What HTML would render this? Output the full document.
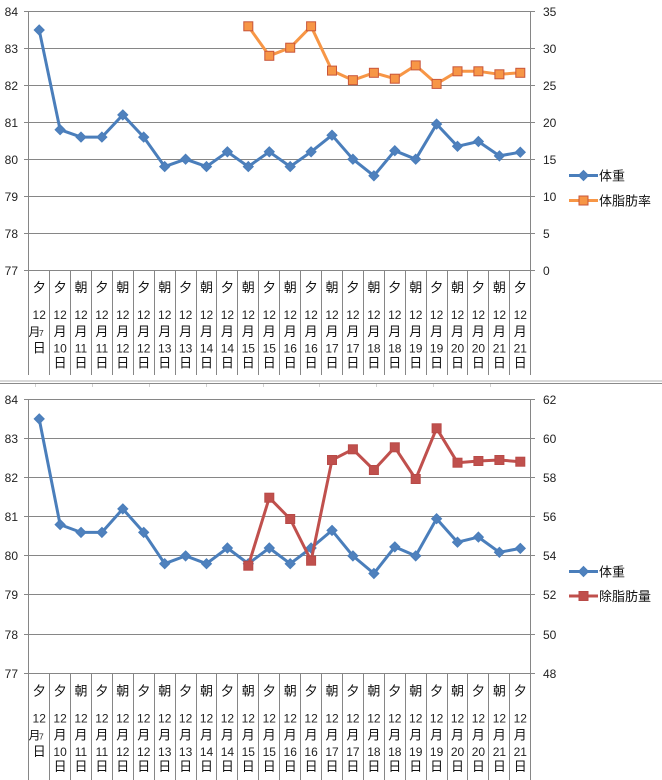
<!DOCTYPE html>
<html><head><meta charset="utf-8"><style>
html,body{margin:0;padding:0;background:#fff;}
svg{display:block;}
.a{font:12px "Liberation Sans","DejaVu Sans",sans-serif;fill:#222;}
.k{font:13px "Liberation Sans","Noto Sans CJK JP",sans-serif;fill:#111;text-anchor:middle;}
.k2{font:12px "Liberation Sans","Noto Sans CJK JP",sans-serif;fill:#111;}
.n{font:12px "Liberation Sans",sans-serif;fill:#222;text-anchor:middle;}
.s{font:8.5px "Liberation Sans",sans-serif;fill:#222;}
.lg{font:13px "Liberation Sans","Noto Sans CJK JP",sans-serif;fill:#111;}
</style></head><body>
<svg width="662" height="780" viewBox="0 0 662 780" xmlns="http://www.w3.org/2000/svg">
<defs>
<path id="d" d="M0,-5 L5,0 L0,5 L-5,0Z" fill="#4F81BD" stroke="#4A7EBB" stroke-width="1"/>
<rect id="o" x="-4.5" y="-4.5" width="9" height="9" fill="#F79646" stroke="#C8553A" stroke-width="1"/>
<rect id="r" x="-4.5" y="-4.5" width="9" height="9" fill="#C0504D" stroke="#B84A47" stroke-width="1"/>
</defs>
<rect width="662" height="780" fill="#fff"/>

<!-- ===== TOP CHART ===== -->
<g stroke="#868686" stroke-width="1" fill="none">
<path d="M24,11.5H535 M24,48.5H535 M24,85.5H535 M24,122.5H535 M24,159.5H535 M24,196.5H535 M24,233.5H535 M24,270.5H535"/>
<path d="M28.5,11V375 M530.5,11V375"/>
<path d="M49.5,270V375 M70.5,270V375 M91.5,270V375 M112.5,270V375 M133.5,270V375 M154.5,270V375 M175.5,270V375 M196.5,270V375 M216.5,270V375 M237.5,270V375 M258.5,270V375 M279.5,270V375 M300.5,270V375 M321.5,270V375 M342.5,270V375 M363.5,270V375 M384.5,270V375 M405.5,270V375 M426.5,270V375 M447.5,270V375 M467.5,270V375 M488.5,270V375 M509.5,270V375"/>
</g>
<g class="a" text-anchor="end">
<text x="18" y="16">84</text><text x="18" y="53">83</text><text x="18" y="90">82</text><text x="18" y="127">81</text>
<text x="18" y="164">80</text><text x="18" y="201">79</text><text x="18" y="238">78</text><text x="18" y="275">77</text>
</g>
<g class="a">
<text x="543" y="16">35</text><text x="543" y="53">30</text><text x="543" y="90">25</text><text x="543" y="127">20</text>
<text x="543" y="164">15</text><text x="543" y="201">10</text><text x="543" y="238">5</text><text x="543" y="275">0</text>
</g>

<polyline fill="none" stroke="#4A7EBB" stroke-width="3" stroke-linejoin="round" points="39.2,30.0 60.1,129.7 81.0,137.1 101.9,137.1 122.8,114.9 143.7,137.1 164.7,166.6 185.6,159.2 206.5,166.6 227.4,151.8 248.3,166.6 269.3,151.8 290.2,166.6 311.1,151.8 332.0,135.2 352.9,159.2 373.9,175.8 394.8,150.7 415.7,159.2 436.6,124.1 457.5,146.3 478.4,141.5 499.4,155.9 520.3,152.2"/>
<g>
<use href="#d" x="39.2" y="30.0"/><use href="#d" x="60.1" y="129.7"/><use href="#d" x="81.0" y="137.1"/><use href="#d" x="101.9" y="137.1"/><use href="#d" x="122.8" y="114.9"/><use href="#d" x="143.7" y="137.1"/><use href="#d" x="164.7" y="166.6"/><use href="#d" x="185.6" y="159.2"/><use href="#d" x="206.5" y="166.6"/><use href="#d" x="227.4" y="151.8"/><use href="#d" x="248.3" y="166.6"/><use href="#d" x="269.3" y="151.8"/><use href="#d" x="290.2" y="166.6"/><use href="#d" x="311.1" y="151.8"/><use href="#d" x="332.0" y="135.2"/><use href="#d" x="352.9" y="159.2"/><use href="#d" x="373.9" y="175.8"/><use href="#d" x="394.8" y="150.7"/><use href="#d" x="415.7" y="159.2"/><use href="#d" x="436.6" y="124.1"/><use href="#d" x="457.5" y="146.3"/><use href="#d" x="478.4" y="141.5"/><use href="#d" x="499.4" y="155.9"/><use href="#d" x="520.3" y="152.2"/>
</g>
<polyline fill="none" stroke="#F79646" stroke-width="3" stroke-linejoin="round" points="248.3,26.3 269.3,55.8 290.2,47.7 311.1,26.3 332.0,70.6 352.9,80.2 373.9,72.8 394.8,78.7 415.7,65.4 436.6,83.9 457.5,71.3 478.4,71.3 499.4,74.3 520.3,72.8"/>
<g>
<use href="#o" x="248.3" y="26.3"/><use href="#o" x="269.3" y="55.8"/><use href="#o" x="290.2" y="47.7"/><use href="#o" x="311.1" y="26.3"/><use href="#o" x="332.0" y="70.6"/><use href="#o" x="352.9" y="80.2"/><use href="#o" x="373.9" y="72.8"/><use href="#o" x="394.8" y="78.7"/><use href="#o" x="415.7" y="65.4"/><use href="#o" x="436.6" y="83.9"/><use href="#o" x="457.5" y="71.3"/><use href="#o" x="478.4" y="71.3"/><use href="#o" x="499.4" y="74.3"/><use href="#o" x="520.3" y="72.8"/>
</g>

<!-- top legend -->
<line x1="569" y1="175.5" x2="598" y2="175.5" stroke="#4A7EBB" stroke-width="3"/>
<use href="#d" x="583.5" y="175.5"/>
<text class="lg" x="599" y="180.5">体重</text>
<line x1="569" y1="200.5" x2="598" y2="200.5" stroke="#F79646" stroke-width="3"/>
<use href="#o" x="583.5" y="200.5"/>
<text class="lg" x="599" y="205.5">体脂肪率</text>

<!-- top category labels -->
<g class="k">
<text x="39.2" y="292">夕</text><text x="60.1" y="292">夕</text><text x="81.0" y="292">朝</text><text x="101.9" y="292">夕</text><text x="122.8" y="292">朝</text><text x="143.7" y="292">夕</text><text x="164.7" y="292">朝</text><text x="185.6" y="292">夕</text><text x="206.5" y="292">朝</text><text x="227.4" y="292">夕</text><text x="248.3" y="292">朝</text><text x="269.3" y="292">夕</text><text x="290.2" y="292">朝</text><text x="311.1" y="292">夕</text><text x="332.0" y="292">朝</text><text x="352.9" y="292">夕</text><text x="373.9" y="292">朝</text><text x="394.8" y="292">夕</text><text x="415.7" y="292">朝</text><text x="436.6" y="292">夕</text><text x="457.5" y="292">朝</text><text x="478.4" y="292">夕</text><text x="499.4" y="292">朝</text><text x="520.3" y="292">夕</text>
</g>
<g class="n">
<text x="39.2" y="319">12</text><text x="60.1" y="319">12</text><text x="81.0" y="319">12</text><text x="101.9" y="319">12</text><text x="122.8" y="319">12</text><text x="143.7" y="319">12</text><text x="164.7" y="319">12</text><text x="185.6" y="319">12</text><text x="206.5" y="319">12</text><text x="227.4" y="319">12</text><text x="248.3" y="319">12</text><text x="269.3" y="319">12</text><text x="290.2" y="319">12</text><text x="311.1" y="319">12</text><text x="332.0" y="319">12</text><text x="352.9" y="319">12</text><text x="373.9" y="319">12</text><text x="394.8" y="319">12</text><text x="415.7" y="319">12</text><text x="436.6" y="319">12</text><text x="457.5" y="319">12</text><text x="478.4" y="319">12</text><text x="499.4" y="319">12</text><text x="520.3" y="319">12</text>
</g>
<text class="k2" x="28.5" y="336">月</text><text class="s" x="39" y="336">7</text>
<text class="k" x="39.2" y="352.5">日</text>
<g class="k">
<text x="60.1" y="336">月</text><text x="81.0" y="336">月</text><text x="101.9" y="336">月</text><text x="122.8" y="336">月</text><text x="143.7" y="336">月</text><text x="164.7" y="336">月</text><text x="185.6" y="336">月</text><text x="206.5" y="336">月</text><text x="227.4" y="336">月</text><text x="248.3" y="336">月</text><text x="269.3" y="336">月</text><text x="290.2" y="336">月</text><text x="311.1" y="336">月</text><text x="332.0" y="336">月</text><text x="352.9" y="336">月</text><text x="373.9" y="336">月</text><text x="394.8" y="336">月</text><text x="415.7" y="336">月</text><text x="436.6" y="336">月</text><text x="457.5" y="336">月</text><text x="478.4" y="336">月</text><text x="499.4" y="336">月</text><text x="520.3" y="336">月</text>
<text x="60.1" y="367.5">日</text><text x="81.0" y="367.5">日</text><text x="101.9" y="367.5">日</text><text x="122.8" y="367.5">日</text><text x="143.7" y="367.5">日</text><text x="164.7" y="367.5">日</text><text x="185.6" y="367.5">日</text><text x="206.5" y="367.5">日</text><text x="227.4" y="367.5">日</text><text x="248.3" y="367.5">日</text><text x="269.3" y="367.5">日</text><text x="290.2" y="367.5">日</text><text x="311.1" y="367.5">日</text><text x="332.0" y="367.5">日</text><text x="352.9" y="367.5">日</text><text x="373.9" y="367.5">日</text><text x="394.8" y="367.5">日</text><text x="415.7" y="367.5">日</text><text x="436.6" y="367.5">日</text><text x="457.5" y="367.5">日</text><text x="478.4" y="367.5">日</text><text x="499.4" y="367.5">日</text><text x="520.3" y="367.5">日</text>
</g>
<g class="n">
<text x="60.1" y="352.5">10</text><text x="81.0" y="352.5">11</text><text x="101.9" y="352.5">11</text><text x="122.8" y="352.5">12</text><text x="143.7" y="352.5">12</text><text x="164.7" y="352.5">13</text><text x="185.6" y="352.5">13</text><text x="206.5" y="352.5">14</text><text x="227.4" y="352.5">14</text><text x="248.3" y="352.5">15</text><text x="269.3" y="352.5">15</text><text x="290.2" y="352.5">16</text><text x="311.1" y="352.5">16</text><text x="332.0" y="352.5">17</text><text x="352.9" y="352.5">17</text><text x="373.9" y="352.5">18</text><text x="394.8" y="352.5">18</text><text x="415.7" y="352.5">19</text><text x="436.6" y="352.5">19</text><text x="457.5" y="352.5">20</text><text x="478.4" y="352.5">20</text><text x="499.4" y="352.5">21</text><text x="520.3" y="352.5">21</text>
</g>

<!-- separator -->
<line x1="0" y1="381" x2="662" y2="381" stroke="#b0b0b0" stroke-width="1"/>
<line x1="0" y1="383.5" x2="662" y2="383.5" stroke="#8a8a8a" stroke-width="1"/>
<path d="M35.5,384V387 M92.5,384V387 M149.5,384V387 M206.5,384V387 M263.5,384V387 M319.5,384V387 M376.5,384V387 M433.5,384V387 M490.5,384V387" stroke="#d0d0d0" stroke-width="1"/>

<!-- ===== BOTTOM CHART ===== -->
<g stroke="#868686" stroke-width="1" fill="none">
<path d="M24,399.5H535 M24,438.5H535 M24,477.5H535 M24,516.5H535 M24,555.5H535 M24,594.5H535 M24,634.5H535 M24,673.5H535"/>
<path d="M28.5,399V780 M530.5,399V780"/>
<path d="M49.5,673V780 M70.5,673V780 M91.5,673V780 M112.5,673V780 M133.5,673V780 M154.5,673V780 M175.5,673V780 M196.5,673V780 M216.5,673V780 M237.5,673V780 M258.5,673V780 M279.5,673V780 M300.5,673V780 M321.5,673V780 M342.5,673V780 M363.5,673V780 M384.5,673V780 M405.5,673V780 M426.5,673V780 M447.5,673V780 M467.5,673V780 M488.5,673V780 M509.5,673V780"/>
</g>
<g class="a" text-anchor="end">
<text x="18" y="404">84</text><text x="18" y="443">83</text><text x="18" y="482">82</text><text x="18" y="521">81</text>
<text x="18" y="560">80</text><text x="18" y="599">79</text><text x="18" y="639">78</text><text x="18" y="678">77</text>
</g>
<g class="a">
<text x="543" y="404">62</text><text x="543" y="443">60</text><text x="543" y="482">58</text><text x="543" y="521">56</text>
<text x="543" y="560">54</text><text x="543" y="599">52</text><text x="543" y="639">50</text><text x="543" y="678">48</text>
</g>

<polyline fill="none" stroke="#4A7EBB" stroke-width="3" stroke-linejoin="round" points="39.2,418.9 60.1,524.6 81.0,532.4 101.9,532.4 122.8,508.9 143.7,532.4 164.7,563.7 185.6,555.9 206.5,563.7 227.4,548.0 248.3,563.7 269.3,548.0 290.2,563.7 311.1,548.0 332.0,530.4 352.9,555.9 373.9,573.5 394.8,546.9 415.7,555.9 436.6,518.7 457.5,542.2 478.4,537.1 499.4,552.3 520.3,548.4"/>
<g>
<use href="#d" x="39.2" y="418.9"/><use href="#d" x="60.1" y="524.6"/><use href="#d" x="81.0" y="532.4"/><use href="#d" x="101.9" y="532.4"/><use href="#d" x="122.8" y="508.9"/><use href="#d" x="143.7" y="532.4"/><use href="#d" x="164.7" y="563.7"/><use href="#d" x="185.6" y="555.9"/><use href="#d" x="206.5" y="563.7"/><use href="#d" x="227.4" y="548.0"/><use href="#d" x="248.3" y="563.7"/><use href="#d" x="269.3" y="548.0"/><use href="#d" x="290.2" y="563.7"/><use href="#d" x="311.1" y="548.0"/><use href="#d" x="332.0" y="530.4"/><use href="#d" x="352.9" y="555.9"/><use href="#d" x="373.9" y="573.5"/><use href="#d" x="394.8" y="546.9"/><use href="#d" x="415.7" y="555.9"/><use href="#d" x="436.6" y="518.7"/><use href="#d" x="457.5" y="542.2"/><use href="#d" x="478.4" y="537.1"/><use href="#d" x="499.4" y="552.3"/><use href="#d" x="520.3" y="548.4"/>
</g>
<polyline fill="none" stroke="#C0504D" stroke-width="3" stroke-linejoin="round" points="248.3,565.7 269.3,497.7 290.2,519.0 311.1,560.7 332.0,460.0 352.9,449.3 373.9,470.0 394.8,447.3 415.7,479.0 436.6,428.3 457.5,462.7 478.4,461.0 499.4,460.0 520.3,461.7"/>
<g>
<use href="#r" x="248.3" y="565.7"/><use href="#r" x="269.3" y="497.7"/><use href="#r" x="290.2" y="519.0"/><use href="#r" x="311.1" y="560.7"/><use href="#r" x="332.0" y="460.0"/><use href="#r" x="352.9" y="449.3"/><use href="#r" x="373.9" y="470.0"/><use href="#r" x="394.8" y="447.3"/><use href="#r" x="415.7" y="479.0"/><use href="#r" x="436.6" y="428.3"/><use href="#r" x="457.5" y="462.7"/><use href="#r" x="478.4" y="461.0"/><use href="#r" x="499.4" y="460.0"/><use href="#r" x="520.3" y="461.7"/>
</g>

<!-- bottom legend -->
<line x1="569" y1="571.5" x2="598" y2="571.5" stroke="#4A7EBB" stroke-width="3"/>
<use href="#d" x="583.5" y="571.5"/>
<text class="lg" x="599" y="576.5">体重</text>
<line x1="569" y1="596" x2="598" y2="596" stroke="#C0504D" stroke-width="3"/>
<use href="#r" x="583.5" y="596"/>
<text class="lg" x="599" y="601">除脂肪量</text>

<!-- bottom category labels -->
<g class="k">
<text x="39.2" y="695.3">夕</text><text x="60.1" y="695.3">夕</text><text x="81.0" y="695.3">朝</text><text x="101.9" y="695.3">夕</text><text x="122.8" y="695.3">朝</text><text x="143.7" y="695.3">夕</text><text x="164.7" y="695.3">朝</text><text x="185.6" y="695.3">夕</text><text x="206.5" y="695.3">朝</text><text x="227.4" y="695.3">夕</text><text x="248.3" y="695.3">朝</text><text x="269.3" y="695.3">夕</text><text x="290.2" y="695.3">朝</text><text x="311.1" y="695.3">夕</text><text x="332.0" y="695.3">朝</text><text x="352.9" y="695.3">夕</text><text x="373.9" y="695.3">朝</text><text x="394.8" y="695.3">夕</text><text x="415.7" y="695.3">朝</text><text x="436.6" y="695.3">夕</text><text x="457.5" y="695.3">朝</text><text x="478.4" y="695.3">夕</text><text x="499.4" y="695.3">朝</text><text x="520.3" y="695.3">夕</text>
</g>
<g class="n">
<text x="39.2" y="722.3">12</text><text x="60.1" y="722.3">12</text><text x="81.0" y="722.3">12</text><text x="101.9" y="722.3">12</text><text x="122.8" y="722.3">12</text><text x="143.7" y="722.3">12</text><text x="164.7" y="722.3">12</text><text x="185.6" y="722.3">12</text><text x="206.5" y="722.3">12</text><text x="227.4" y="722.3">12</text><text x="248.3" y="722.3">12</text><text x="269.3" y="722.3">12</text><text x="290.2" y="722.3">12</text><text x="311.1" y="722.3">12</text><text x="332.0" y="722.3">12</text><text x="352.9" y="722.3">12</text><text x="373.9" y="722.3">12</text><text x="394.8" y="722.3">12</text><text x="415.7" y="722.3">12</text><text x="436.6" y="722.3">12</text><text x="457.5" y="722.3">12</text><text x="478.4" y="722.3">12</text><text x="499.4" y="722.3">12</text><text x="520.3" y="722.3">12</text>
</g>
<text class="k2" x="28.5" y="739.3">月</text><text class="s" x="39" y="739.3">7</text>
<text class="k" x="39.2" y="755.8">日</text>
<g class="k">
<text x="60.1" y="739.3">月</text><text x="81.0" y="739.3">月</text><text x="101.9" y="739.3">月</text><text x="122.8" y="739.3">月</text><text x="143.7" y="739.3">月</text><text x="164.7" y="739.3">月</text><text x="185.6" y="739.3">月</text><text x="206.5" y="739.3">月</text><text x="227.4" y="739.3">月</text><text x="248.3" y="739.3">月</text><text x="269.3" y="739.3">月</text><text x="290.2" y="739.3">月</text><text x="311.1" y="739.3">月</text><text x="332.0" y="739.3">月</text><text x="352.9" y="739.3">月</text><text x="373.9" y="739.3">月</text><text x="394.8" y="739.3">月</text><text x="415.7" y="739.3">月</text><text x="436.6" y="739.3">月</text><text x="457.5" y="739.3">月</text><text x="478.4" y="739.3">月</text><text x="499.4" y="739.3">月</text><text x="520.3" y="739.3">月</text>
<text x="60.1" y="770.8">日</text><text x="81.0" y="770.8">日</text><text x="101.9" y="770.8">日</text><text x="122.8" y="770.8">日</text><text x="143.7" y="770.8">日</text><text x="164.7" y="770.8">日</text><text x="185.6" y="770.8">日</text><text x="206.5" y="770.8">日</text><text x="227.4" y="770.8">日</text><text x="248.3" y="770.8">日</text><text x="269.3" y="770.8">日</text><text x="290.2" y="770.8">日</text><text x="311.1" y="770.8">日</text><text x="332.0" y="770.8">日</text><text x="352.9" y="770.8">日</text><text x="373.9" y="770.8">日</text><text x="394.8" y="770.8">日</text><text x="415.7" y="770.8">日</text><text x="436.6" y="770.8">日</text><text x="457.5" y="770.8">日</text><text x="478.4" y="770.8">日</text><text x="499.4" y="770.8">日</text><text x="520.3" y="770.8">日</text>
</g>
<g class="n">
<text x="60.1" y="755.8">10</text><text x="81.0" y="755.8">11</text><text x="101.9" y="755.8">11</text><text x="122.8" y="755.8">12</text><text x="143.7" y="755.8">12</text><text x="164.7" y="755.8">13</text><text x="185.6" y="755.8">13</text><text x="206.5" y="755.8">14</text><text x="227.4" y="755.8">14</text><text x="248.3" y="755.8">15</text><text x="269.3" y="755.8">15</text><text x="290.2" y="755.8">16</text><text x="311.1" y="755.8">16</text><text x="332.0" y="755.8">17</text><text x="352.9" y="755.8">17</text><text x="373.9" y="755.8">18</text><text x="394.8" y="755.8">18</text><text x="415.7" y="755.8">19</text><text x="436.6" y="755.8">19</text><text x="457.5" y="755.8">20</text><text x="478.4" y="755.8">20</text><text x="499.4" y="755.8">21</text><text x="520.3" y="755.8">21</text>
</g>
</svg>
</body></html>
